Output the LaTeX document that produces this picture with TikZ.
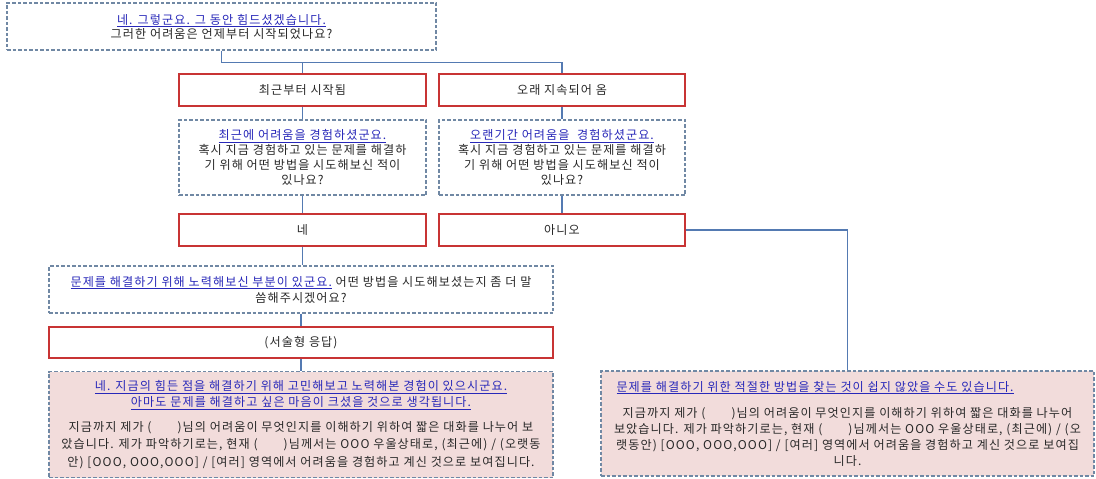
\documentclass[tikz,border=0pt]{standalone}
\usepackage{fontspec}
\setmainfont[LetterSpace=9]{Noto Sans CJK KR}
\usetikzlibrary{calc}
\definecolor{conn}{RGB}{84,122,178}
\definecolor{boxred}{RGB}{200,52,52}
\definecolor{dashgray}{RGB}{112,136,164}
\definecolor{linkblue}{RGB}{40,40,185}
\definecolor{pinkfill}{RGB}{242,220,219}
\definecolor{txt}{RGB}{40,40,40}
\newcommand{\lk}[1]{\textcolor{linkblue}{\underline{#1}}}
\newcommand{\fs}[1]{\fontsize{12.1}{#1}\selectfont\lineskiplimit=-100pt\relax}
\newcommand{\gap}{(\hspace{26pt})}
\tikzset{
  redbox/.style={draw=boxred, line width=1.4pt, fill=white, inner sep=0pt, align=center, text=txt},
  dbox/.style={draw=dashgray, line width=1.1pt, dash pattern=on 3.5pt off 2pt, fill=white, inner sep=0pt, align=center, text=txt},
  pbox/.style={dbox, fill=pinkfill},
  link/.style={draw=conn, line width=1.3pt}
}
\begin{document}
\begin{tikzpicture}[x=1pt,y=-1pt, font=\fs{14.8}]
\useasboundingbox (0,0) rectangle (1096,479);
\fill[white] (0,0) rectangle (1096,479);

\node[dbox, minimum width=429pt, minimum height=47pt, font=\fs{14}] (top) at (221.5,26.5)
  {\lk{네. 그렇군요. 그 동안 힘드셨겠습니다.}\\그러한 어려움은 언제부터 시작되었나요?};

\node[redbox, minimum width=247pt, minimum height=32pt] (r1) at (302.5,90) {최근부터 시작됨};
\node[redbox, minimum width=246pt, minimum height=32pt] (r2) at (562,90) {오래 지속되어 옴};

\node[dbox, minimum width=247pt, minimum height=75pt] (d1) at (302.5,157.5)
  {\lk{최근에 어려움을 경험하셨군요.}\\혹시 지금 경험하고 있는 문제를 해결하\\기 위해 어떤 방법을 시도해보신 적이\\있나요?};
\node[dbox, minimum width=246pt, minimum height=75pt] (d2) at (562,157.5)
  {\lk{오랜기간 어려움을 \ 경험하셨군요.}\\혹시 지금 경험하고 있는 문제를 해결하\\기 위해 어떤 방법을 시도해보신 적이\\있나요?};

\node[redbox, minimum width=247pt, minimum height=32pt] (yes) at (302.5,230) {네};
\node[redbox, minimum width=246pt, minimum height=32pt] (no) at (562,230) {아니오};

\node[dbox, minimum width=504pt, minimum height=47pt, font=\fs{16}] (d3) at (301,289.5)
  {\lk{문제를 해결하기 위해 노력해보신 부분이 있군요.} 어떤 방법을 시도해보셨는지 좀 더 말\\씀해주시겠어요?};

\node[redbox, minimum width=504pt, minimum height=31pt] (r3) at (301,342.5) {(서술형 응답)};

\node[pbox, minimum width=504pt, minimum height=106pt, font=\fs{17.5}] (p1) at (301,424.5)
  {\lk{네. 지금의 힘든 점을 해결하기 위해 고민해보고 노력해본 경험이 있으시군요.}\\[-1.5pt]
   \lk{아마도 문제를 해결하고 싶은 마음이 크셨을 것으로 생각됩니다.}\\[7.5pt]
   지금까지 제가 \gap 님의 어려움이 무엇인지를 이해하기 위하여 짧은 대화를 나누어 보\\
   았습니다. 제가 파악하기로는, 현재 \gap 님께서는 OOO 우울상태로, (최근에) / (오랫동\\
   안) [OOO, OOO,OOO] / [여러] 영역에서 어려움을 경험하고 계신 것으로 보여집니다.};

\node[pbox, minimum width=493pt, minimum height=105pt, font=\fs{16}] (p2) at (847.5,423.5)
  {\makebox[462pt][l]{\lk{문제를 해결하기 위한 적절한 방법을 찾는 것이 쉽지 않았을 수도 있습니다.}}\\[10pt]
   지금까지 제가 \gap 님의 어려움이 무엇인지를 이해하기 위하여 짧은 대화를 나누어\\
   보았습니다. 제가 파악하기로는, 현재 \gap 님께서는 OOO 우울상태로, (최근에) / (오\\
   랫동안) [OOO, OOO,OOO] / [여러] 영역에서 어려움을 경험하고 계신 것으로 보여집\\
   니다.};

\coordinate (bar) at ($(top.south)+(0,12)$);
\draw[link] (top.south) -- (bar) -| (r2.north);
\draw[link] (bar) -| (r1.north);
\draw[link] (r1) -- (d1);
\draw[link] (r2) -- (d2);
\draw[link] (d1) -- (yes);
\draw[link] (d2) -- (no);
\draw[link] (yes.south) -- (yes.south |- d3.north);
\draw[link] (d3) -- (r3);
\draw[link] (r3) -- (p1);
\draw[link] (no.east) -| (p2.north);
\end{tikzpicture}
\end{document}
